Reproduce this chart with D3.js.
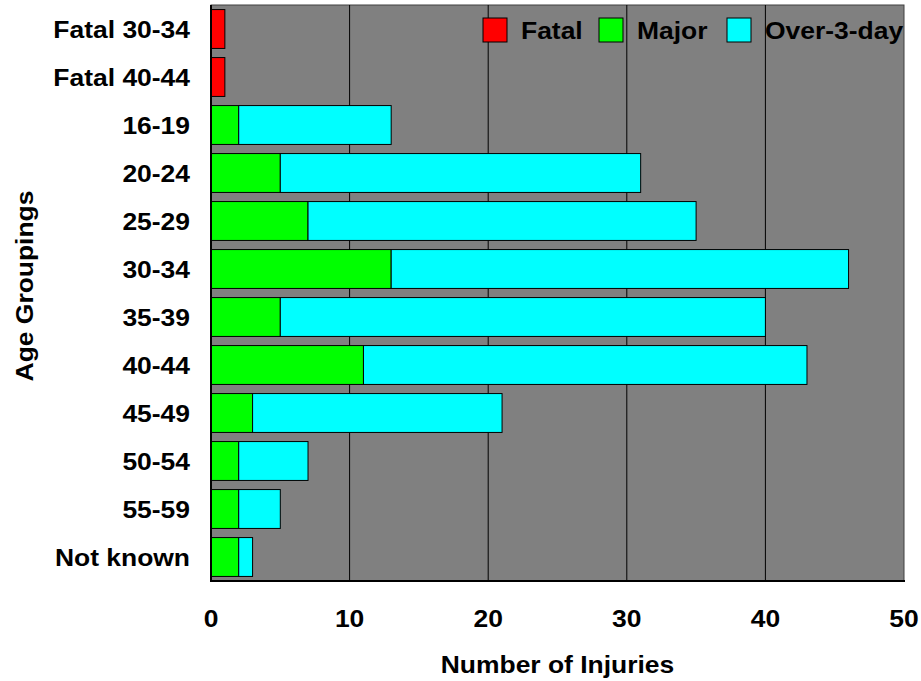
<!DOCTYPE html>
<html lang="en">
<head>
    <meta charset="UTF-8">
    <title>Number of Injuries by Age Grouping</title>
    <script src="https://d3js.org/d3.v7.min.js"></script>
    <style>
        body { margin: 0; background: #fff; }
        svg { display: block; font-family: "Liberation Sans", Arial, sans-serif; font-weight: bold; }
    </style>
</head>
<body>
    <svg width="921" height="681"></svg>
    <script>
        // age groups, top to bottom
        const categories = ['Fatal 30-34', 'Fatal 40-44', '16-19', '20-24', '25-29', '30-34',
            '35-39', '40-44', '45-49', '50-54', '55-59', 'Not known'];
        const fatal = [1, 1, 0, 0, 0, 0, 0, 0, 0, 0, 0, 0];
        const major = [0, 0, 2, 5, 7, 13, 5, 11, 3, 2, 2, 2];
        const over3day = [0, 0, 11, 26, 28, 33, 35, 32, 18, 5, 3, 1];
        const xTicks = [0, 10, 20, 30, 40, 50];

        const seriesNames = ['Fatal', 'Major', 'Over-3-day'];
        const colors = ['#ff0000', '#00ff00', '#00ffff'];

        const margin = { top: 5, right: 17, bottom: 100, left: 211 };
        const width = 921, height = 681;
        const fontSize = 23;
        const stretchX = 1.15; // the original font is a bit wider than Liberation Sans
        const svg = d3.select('svg');

        const x = d3.scaleLinear()
            .domain([0, 50])
            .range([margin.left, width - margin.right]);

        const y = d3.scaleBand()
            .domain(categories)
            .range([margin.top, height - margin.bottom])
            .paddingInner(0.19)
            .paddingOuter(0.095);

        // stack rows
        const rows = categories.map((c, i) => ({ cat: c, Fatal: fatal[i], Major: major[i], 'Over-3-day': over3day[i] }));
        const stack = d3.stack().keys(seriesNames)(rows);

        // plot background
        svg.append('rect')
            .attr('x', x(0)).attr('y', margin.top)
            .attr('width', x(50) - x(0)).attr('height', height - margin.bottom - margin.top)
            .attr('fill', '#808080')
            .attr('stroke', '#404040').attr('stroke-width', 1);

        // vertical gridlines
        svg.append('g')
            .selectAll('line')
            .data(xTicks.slice(1, -1))
            .join('line')
            .attr('x1', d => x(d)).attr('x2', d => x(d))
            .attr('y1', margin.top).attr('y2', height - margin.bottom)
            .attr('stroke', '#000').attr('stroke-width', 1);

        // bars
        svg.append('g')
            .selectAll('g')
            .data(stack)
            .join('g')
            .attr('fill', (d, i) => colors[i])
            .selectAll('rect')
            .data(d => d.filter(s => s[1] - s[0] > 0))
            .join('rect')
            .attr('x', d => x(d[0]))
            .attr('y', d => y(d.data.cat))
            .attr('width', d => x(d[1]) - x(d[0]))
            .attr('height', y.bandwidth())
            .attr('stroke', '#000').attr('stroke-width', 1);

        // axis lines
        svg.append('line')
            .attr('x1', x(0)).attr('x2', x(0))
            .attr('y1', margin.top).attr('y2', height - margin.bottom + 1)
            .attr('stroke', '#000').attr('stroke-width', 2);
        svg.append('line')
            .attr('x1', x(0) - 1).attr('x2', x(50) + 1)
            .attr('y1', height - margin.bottom).attr('y2', height - margin.bottom)
            .attr('stroke', '#000').attr('stroke-width', 2);

        // x tick labels
        svg.append('g')
            .selectAll('text')
            .data(xTicks)
            .join('text')
            .attr('transform', d => `translate(${x(d)}, 627) scale(${stretchX}, 1)`)
            .attr('text-anchor', 'middle')
            .attr('font-size', fontSize)
            .text(d => d);

        // category labels
        svg.append('g')
            .selectAll('text')
            .data(categories)
            .join('text')
            .attr('transform', d => `translate(190, ${y(d) + y.bandwidth() / 2 + 9}) scale(${stretchX}, 1)`)
            .attr('text-anchor', 'end')
            .attr('font-size', fontSize)
            .text(d => d);

        // axis titles
        svg.append('text')
            .attr('transform', `translate(${(x(0) + x(50)) / 2}, 673) scale(${stretchX}, 1)`)
            .attr('text-anchor', 'middle')
            .attr('font-size', fontSize)
            .text('Number of Injuries');

        svg.append('text')
            .attr('transform', `translate(33, 286) rotate(-90) scale(${stretchX}, 1)`)
            .attr('text-anchor', 'middle')
            .attr('font-size', fontSize)
            .text('Age Groupings');

        // legend
        const legendX = [483, 599, 727];
        const legend = svg.append('g')
            .selectAll('g')
            .data(seriesNames)
            .join('g')
            .attr('transform', (d, i) => `translate(${legendX[i]}, 18)`);
        legend.append('rect')
            .attr('width', 24).attr('height', 24)
            .attr('fill', (d, i) => colors[i])
            .attr('stroke', '#000').attr('stroke-width', 1);
        legend.append('text')
            .attr('transform', `translate(38, 21) scale(${stretchX}, 1)`)
            .attr('font-size', fontSize)
            .text(d => d);
    </script>
</body>
</html>
